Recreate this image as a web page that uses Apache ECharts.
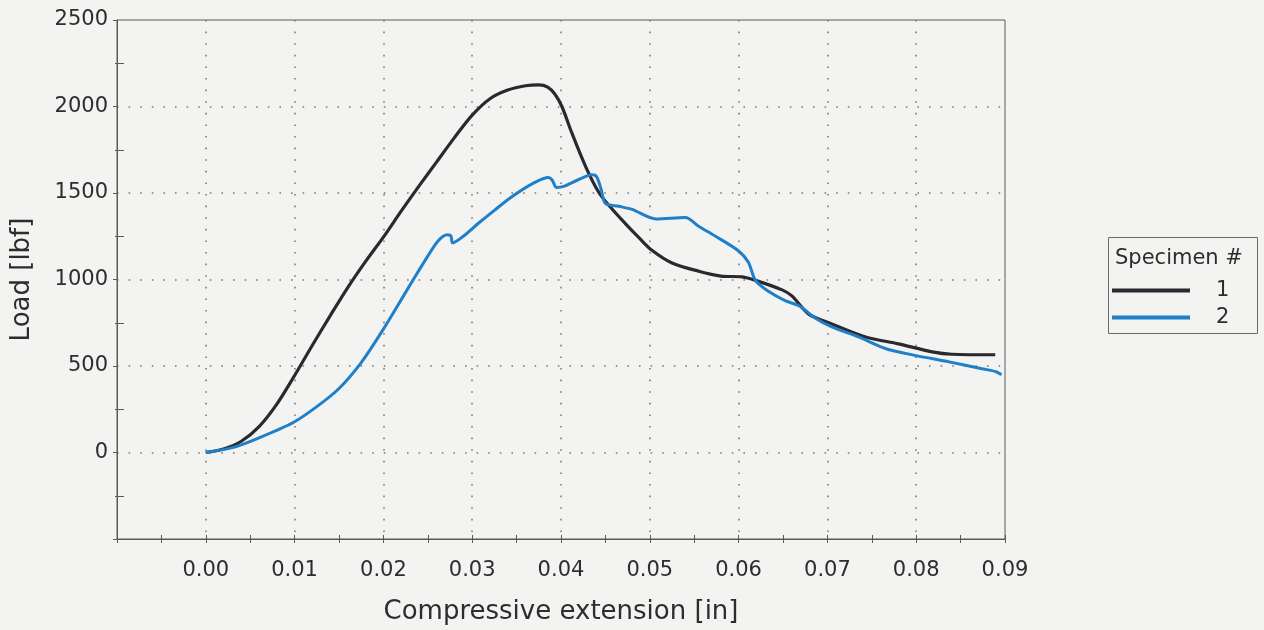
<!DOCTYPE html>
<html>
<head>
<meta charset="utf-8">
<title>Load vs compressive extension</title>
<script src="https://cdn.jsdelivr.net/npm/echarts@6/dist/echarts.min.js"></script>
<style>
  html, body { margin: 0; padding: 0; background: #f3f3f2; }
  #chart { width: 1264px; height: 630px; }
</style>
</head>
<body>
<div id="chart"></div>
<script>
// Specimen 1: compressive extension [in] and load [lbf]
const ext1 = [0, 0.0020, 0.0040, 0.0060, 0.0080, 0.0100, 0.0120, 0.0140, 0.0160, 0.0180,
  0.0200, 0.0220, 0.0240, 0.0260, 0.0280, 0.0300, 0.0320, 0.0340, 0.0360, 0.0375,
  0.0385, 0.0393, 0.0401, 0.0412, 0.0428, 0.0443, 0.0457, 0.0473, 0.0488, 0.0502,
  0.0525, 0.0555, 0.0580, 0.0604, 0.0619, 0.0649, 0.0660, 0.0679, 0.0705, 0.0743,
  0.0780, 0.0818, 0.0840, 0.0889];
const load1 = [0, 20, 65, 150, 280, 445, 620, 790, 955, 1105,
  1245, 1395, 1540, 1680, 1820, 1950, 2045, 2095, 2120, 2125,
  2112, 2072, 2000, 1850, 1650, 1500, 1410, 1320, 1240, 1170,
  1095, 1048, 1020, 1015, 995, 940, 905, 800, 743, 668,
  628, 582, 568, 565];

// Specimen 2
const ext2 = [0, 0.0030, 0.0060, 0.0099, 0.0125, 0.0150, 0.0175, 0.0198, 0.0215,
  0.0232, 0.0250, 0.0262, 0.0272, 0.0276, 0.0278, 0.0290, 0.0307, 0.0325, 0.0345,
  0.0370, 0.0386, 0.0390, 0.0395, 0.0403, 0.0420, 0.0435, 0.0440, 0.0445, 0.0450,
  0.0465, 0.0480, 0.0507, 0.0540, 0.0555, 0.0574, 0.0600, 0.0611, 0.0619, 0.0634,
  0.0653, 0.0668, 0.0687, 0.0705, 0.0735, 0.0766, 0.0800, 0.0837, 0.0874, 0.0890, 0.0896];
const load2 = [0, 28, 85, 175, 265, 370, 520, 697, 840,
  985, 1135, 1225, 1258, 1252, 1212, 1250, 1325, 1400, 1480,
  1560, 1590, 1575, 1532, 1538, 1578, 1605, 1595, 1525, 1440,
  1423, 1405, 1350, 1358, 1308, 1250, 1165, 1100, 995, 930,
  876, 848, 775, 726, 668, 600, 560, 524, 484, 467, 449];

const seriesNames = ['1', '2'];
const xTickLabels = ['0.00', '0.01', '0.02', '0.03', '0.04', '0.05', '0.06', '0.07', '0.08', '0.09'];
const yTickLabels = ['0', '500', '1000', '1500', '2000', '2500'];

const FONT = 'DejaVu Sans, Verdana, sans-serif';
const TEXT = '#2d2d2d';
const AXIS = '#5a5a5a';

const pairs = (xs, ys) => xs.map((x, i) => [x, ys[i]]);

const xLabel = v => {
  const i = Math.round(v / 0.01);
  return (v > -0.001 && xTickLabels[i] !== undefined) ? xTickLabels[i] : '';
};
const yLabel = v => {
  const i = Math.round(v / 500);
  return (v > -1 && yTickLabels[i] !== undefined) ? yTickLabels[i] : '';
};

const xBase = { type: 'value', min: -0.01, max: 0.09, interval: 0.01, position: 'bottom' };
const yBase = { type: 'value', min: -500, max: 2500, interval: 500, position: 'left' };
const dotted = { show: true, showMinLine: false, showMaxLine: false,
  lineStyle: { color: '#7a7a7a', width: 1.6, type: [1.6, 10] } };

const chart = echarts.init(document.getElementById('chart'), null, { renderer: 'canvas' });
chart.setOption({
  backgroundColor: '#f3f3f2',
  animation: false,
  grid: { left: 117, right: 259, top: 20, bottom: 89, show: true,
    borderColor: AXIS, borderWidth: 1, backgroundColor: 'transparent' },
  xAxis: [
    Object.assign({}, xBase, {
      name: 'Compressive extension [in]', nameLocation: 'middle', nameGap: 60,
      nameTextStyle: { fontFamily: FONT, fontSize: 26, color: TEXT },
      axisLine: { show: true, onZero: false, lineStyle: { color: AXIS, width: 1 } },
      axisTick: { show: true, inside: false, length: 4, lineStyle: { color: AXIS } },
      minorTick: { show: true, splitNumber: 2, length: 4, lineStyle: { color: AXIS } },
      axisLabel: { formatter: xLabel, fontFamily: FONT, fontSize: 21, color: TEXT, margin: 21,
        showMinLabel: true, showMaxLabel: true },
      splitLine: dotted
    }),
    Object.assign({}, xBase, {
      axisLine: { show: false, onZero: false },
      axisTick: { show: true, inside: true, length: 4, lineStyle: { color: AXIS } },
      minorTick: { show: true, splitNumber: 2, length: 4, lineStyle: { color: AXIS } },
      axisLabel: { show: false },
      splitLine: { show: false }
    })
  ],
  yAxis: [
    Object.assign({}, yBase, {
      name: 'Load [lbf]', nameLocation: 'middle', nameGap: 82,
      nameTextStyle: { fontFamily: FONT, fontSize: 26, color: TEXT },
      axisLine: { show: true, onZero: false, lineStyle: { color: AXIS, width: 1 } },
      axisTick: { show: true, inside: false, length: 4, lineStyle: { color: AXIS } },
      minorTick: { show: true, splitNumber: 2, length: 2, lineStyle: { color: AXIS } },
      axisLabel: { formatter: yLabel, fontFamily: FONT, fontSize: 21, color: TEXT, margin: 9 },
      splitLine: dotted
    }),
    Object.assign({}, yBase, {
      axisLine: { show: false, onZero: false },
      axisTick: { show: false, inside: true },
      minorTick: { show: true, splitNumber: 2, length: 7, lineStyle: { color: AXIS } },
      axisLabel: { show: false },
      splitLine: { show: false }
    })
  ],
  legend: {
    orient: 'vertical', left: 1112, top: 280, padding: 0,
    icon: 'rect', itemWidth: 78, itemHeight: 4, itemGap: 6,
    textStyle: { fontFamily: FONT, fontSize: 21, color: TEXT, padding: [0, 0, 0, 21] },
    data: seriesNames
  },
  graphic: [
    { type: 'rect', left: 1108, top: 237, shape: { width: 149, height: 96 },
      style: { fill: 'transparent', stroke: '#6a6a6a', lineWidth: 1 }, silent: true },
    { type: 'text', left: 1115, top: 248,
      style: { text: 'Specimen #', fontFamily: FONT, fontSize: 21, fill: TEXT } }
  ],
  series: [
    { name: seriesNames[0], type: 'line', data: pairs(ext1, load1), smooth: 0.3,
      symbol: 'none', color: '#2a2a2e', lineStyle: { width: 3.2, color: '#2a2a2e' }, z: 3 },
    { name: seriesNames[1], type: 'line', data: pairs(ext2, load2), smooth: 0.3,
      symbol: 'none', color: '#1f7fc8', lineStyle: { width: 3, color: '#1f7fc8' }, z: 4 }
  ]
});
</script>
</body>
</html>
